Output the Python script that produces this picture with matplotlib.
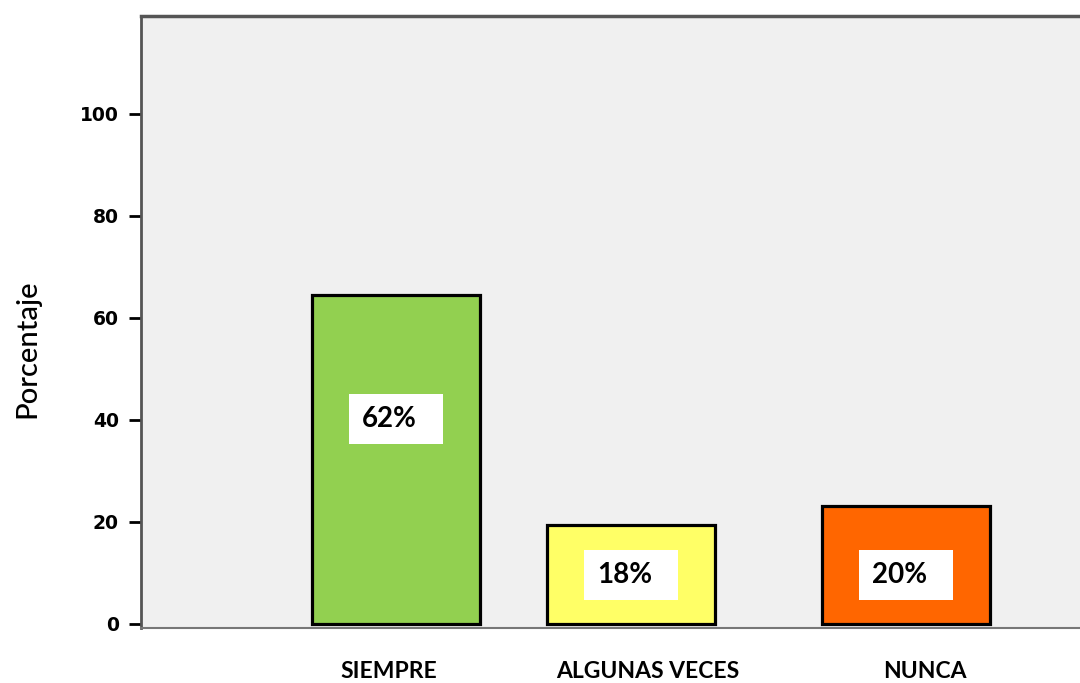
import matplotlib
matplotlib.use('Agg')
import matplotlib.pyplot as plt
from matplotlib.patches import Rectangle

# datos del grafico
categorias = ['SIEMPRE', 'ALGUNAS VECES', 'NUNCA']
porcentajes = [64.5, 19.4, 23.1]
etiquetas = ['62%', '18%', '20%']
colores = ['#92d050', '#ffff66', '#ff6600']

# layout (posiciones de barras y cajas de etiqueta)
x_barras = [0, 1, 2.17]
x_ticks = [-0.03, 1.07, 2.25]
y_cajas = [40.2, 9.6, 9.6]

fig = plt.figure(figsize=(10.8, 6.83), dpi=100)
ax = fig.add_axes([0.1306, 0.0805, 0.8694, 0.896])
ax.set_facecolor('#f0f0f0')

ax.bar(x_barras, porcentajes, width=0.715, color=colores, edgecolor='black', linewidth=2.3, zorder=3)

caja_w = 0.40
caja_h = 9.8
for x, y, txt in zip(x_barras, y_cajas, etiquetas):
    ax.add_patch(Rectangle((x - caja_w / 2, y - caja_h / 2), caja_w, caja_h,
                           facecolor='white', edgecolor='none', zorder=4))
    ax.text(x - caja_w / 2 + 0.055, y, txt, ha='left', va='center', fontsize=20,
            fontweight='bold', family='Lato', zorder=5)

ax.set_xlim(-1.085, 2.91)
ax.set_ylim(-0.8, 119.2)

ax.set_yticks([0, 20, 40, 60, 80, 100])
ax.set_yticklabels(['0', '20', '40', '60', '80', '100'], fontweight='bold', fontsize=13.5)
ax.tick_params(axis='y', length=9, width=2, color='black', pad=7)

ax.set_xticks(x_ticks)
ax.set_xticklabels(categorias, fontweight='bold', fontsize=16.5, family='Lato')
ax.tick_params(axis='x', length=0, pad=24)

ax.set_ylabel('Porcentaje', fontsize=21, family='Lato', fontweight='medium', va='center')
ax.yaxis.set_label_coords(-0.121, 0.456)

ax.spines['right'].set_visible(False)
ax.spines['left'].set_color('#555555')
ax.spines['left'].set_linewidth(2)
ax.spines['top'].set_color('#555555')
ax.spines['top'].set_linewidth(2.5)
ax.spines['bottom'].set_color('#777777')
ax.spines['bottom'].set_linewidth(1.5)

fig.savefig('out.png', dpi=100, facecolor='white')
